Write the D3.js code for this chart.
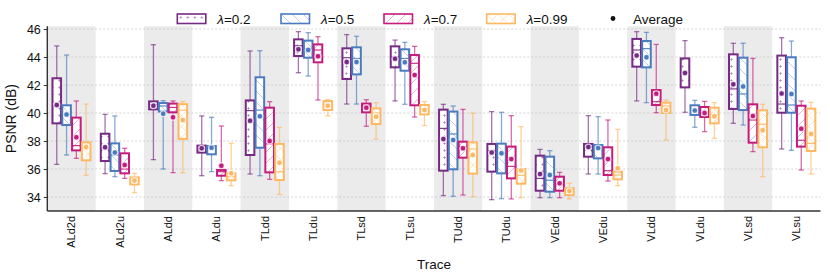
<!DOCTYPE html>
<html><head><meta charset="utf-8">
<script src="https://cdn.jsdelivr.net/npm/d3@7"></script>
<style>body{margin:0;background:#fff}svg{display:block;font-family:"Liberation Sans",Arial,sans-serif}</style>
</head><body><svg id="c" width="830" height="279"></svg>
<script>
const categories = ["ALd2d","ALd2u","ALdd","ALdu","TLdd","TLdu","TLsd","TLsu","TUdd","TUdu","VEdd","VEdu","VLdd","VLdu","VLsd","VLsu"];
const seriesLabels = ["0.2","0.5","0.7","0.99"];
const yTicks = [34,36,38,40,42,44,46];
// each row: [whiskerLow, q1, median, q3, whiskerHigh, mean]
const lam02 = [
 [36.33,39.26,40.5,42.48,44.79,40.57],[35.67,36.57,37.5,38.52,39.9,37.55],[36.67,40.26,40.6,40.83,44.88,40.52],[35.52,37.17,37.45,37.67,39.79,37.48],
 [35.64,37.0,40.17,40.9,44.43,39.45],[42.88,44.07,44.8,45.26,45.81,44.55],[40.64,42.43,43.95,44.62,45.6,43.64],[40.86,43.26,44.0,44.76,45.21,43.88],
 [34.1,35.88,38.9,40.24,40.62,38.14],[33.81,35.81,37.3,37.79,40.1,37.17],[33.95,34.45,35.33,36.95,37.4,35.64],[35.64,36.88,37.6,37.79,39.81,37.57],
 [40.86,43.31,44.5,45.29,45.81,44.1],[40.05,41.83,42.9,43.9,45.17,42.86],[39.26,40.29,41.72,44.19,44.98,42.05],[37.43,40.02,40.64,44.1,45.38,41.4]];
const lam05 = [
 [37.0,39.14,39.9,40.55,44.14,39.9],[35.45,35.86,37.0,37.83,39.79,37.17],[36.0,40.1,40.5,40.71,40.88,39.95],[35.81,37.05,37.5,37.64,39.69,37.52],
 [35.52,37.52,40.21,42.55,44.45,39.76],[42.64,43.95,44.6,45.17,45.74,44.5],[40.64,42.76,43.9,44.69,45.48,43.64],[40.62,43.02,43.9,44.55,45.05,43.62],
 [34.05,35.98,38.5,40.1,40.5,38.07],[33.88,35.69,37.1,37.81,40.05,37.12],[33.95,34.38,35.2,36.88,37.31,35.57],[35.64,36.76,37.5,37.71,39.74,37.5],
 [40.74,43.26,44.6,45.14,45.76,43.98],[38.98,39.86,40.2,40.55,40.9,40.17],[39.14,40.21,41.36,43.95,44.98,41.9],[37.33,40.02,40.57,43.98,45.14,41.36]];
const lam07 = [
 [36.76,37.33,37.67,39.67,40.86,38.26],[35.33,35.69,36.0,37.12,37.48,36.29],[35.74,40.05,40.4,40.67,40.86,39.69],[35.17,35.52,35.81,35.93,39.07,36.24],
 [35.26,35.76,37.8,40.38,40.81,38.0],[40.93,43.62,44.5,44.9,45.45,44.05],[39.05,40.05,40.5,40.67,40.95,40.38],[39.71,40.55,43.55,44.14,44.76,42.71],
 [34.14,36.81,37.6,37.95,40.26,37.48],[33.86,35.33,36.19,37.6,39.81,36.71],[33.95,34.45,34.9,35.45,35.76,34.98],[35.14,35.57,35.88,37.55,39.5,36.71],
 [40.02,40.57,40.81,41.64,44.9,41.38],[38.67,39.71,40.0,40.43,40.83,40.0],[37.24,37.88,39.5,40.62,43.9,39.79],[35.93,37.6,38.05,40.52,40.86,38.88]];
const lam099 = [
 [35.55,36.62,37.5,37.9,40.64,37.57],[34.31,34.9,35.17,35.4,35.69,35.17],[35.74,38.15,40.2,40.63,40.82,39.5],[34.81,35.19,35.45,35.69,37.83,35.69],
 [34.19,35.21,35.8,37.79,38.98,36.45],[39.8,40.21,40.55,40.85,40.96,40.52],[38.14,39.21,40.0,40.33,40.74,39.74],[39.1,39.9,40.3,40.57,40.81,40.21],
 [34.02,35.67,37.43,37.9,39.98,37.0],[33.95,34.95,35.55,36.0,39.02,35.9],[33.86,34.14,34.4,34.62,34.98,34.43],[34.81,35.26,35.57,35.81,38.83,36.05],
 [38.07,40.0,40.5,40.74,40.93,40.21],[38.19,39.26,39.9,40.38,40.74,39.76],[35.45,37.55,39.2,40.19,40.62,38.77],[35.64,37.29,37.83,40.31,40.76,38.5]];

const allSeries = [lam02, lam05, lam07, lam099];
const colors = ["#762a83","#4a7bbf","#c51b7d","#fdb863"];
const hatch = ["plus","back","fwd","cross"];

const svg = d3.select("#c");
const M = {l:47.3, r:820.5, t:26.2, b:211};
const x = d3.scaleBand().domain(categories).range([M.l, M.r]).padding(0);
const y = d3.scaleLinear().domain([33, 46.2]).range([M.b, M.t]);
const sub = d3.scaleBand().domain(d3.range(4)).range([-19.6, 19.6]);
const bw = 8.6;

// patterns
const defs = svg.append("defs");
colors.forEach((c,i)=>{
  const p = defs.append("pattern").attr("id","pat"+i).attr("patternUnits","userSpaceOnUse")
    .attr("width", i===0?7:11).attr("height", i===0?7:11);
  const st = {stroke:c, "stroke-opacity":0.4, "stroke-width":0.9, fill:"none"};
  const add = (d)=>{const e=p.append("path").attr("d",d); Object.entries(st).forEach(([k,v])=>e.attr(k,v));};
  if (hatch[i]==="plus") { add("M2,3.5H5M3.5,2V5"); }
  if (hatch[i]==="back") { add("M0,0L11,11M-5.5,5.5L5.5,16.5M5.5,-5.5L16.5,5.5"); }
  if (hatch[i]==="fwd") { add("M0,11L11,0M-5.5,5.5L5.5,-5.5M5.5,16.5L16.5,5.5"); }
  if (hatch[i]==="cross") { add("M0,0L11,11M0,11L11,0"); }
});

// bands
svg.append("g").selectAll("rect").data(categories.filter((d,i)=>i%2===0)).join("rect")
  .attr("x", d=>x(d)).attr("width", x.bandwidth()).attr("y", M.t).attr("height", M.b-M.t).attr("fill","#ebebeb");

// grid
svg.append("g").selectAll("line").data(yTicks).join("line")
  .attr("x1", M.l).attr("x2", M.r).attr("y1", d=>y(d)).attr("y2", d=>y(d))
  .attr("stroke","#c8c8c8").attr("stroke-width",0.8).attr("stroke-dasharray","2,2");

// boxes
allSeries.forEach((ser, si)=>{
  const c = colors[si];
  const g = svg.append("g");
  ser.forEach((row, ci)=>{
    const [lo,q1,md,q3,hi,mn] = row;
    const cx = x(categories[ci]) + x.bandwidth()/2 + sub(si) + sub.bandwidth()/2;
    const wg = g.append("g").attr("stroke", c).attr("stroke-opacity",0.65).attr("stroke-width",1.3);
    wg.append("line").attr("x1",cx).attr("x2",cx).attr("y1",y(lo)).attr("y2",y(q1));
    wg.append("line").attr("x1",cx).attr("x2",cx).attr("y1",y(q3)).attr("y2",y(hi));
    wg.append("line").attr("x1",cx-2.6).attr("x2",cx+2.6).attr("y1",y(lo)).attr("y2",y(lo));
    wg.append("line").attr("x1",cx-2.6).attr("x2",cx+2.6).attr("y1",y(hi)).attr("y2",y(hi));
    g.append("rect").attr("x",cx-bw/2).attr("width",bw).attr("y",y(q3)).attr("height",Math.max(0.5,y(q1)-y(q3)))
      .attr("fill","#fff");
    g.append("rect").attr("x",cx-bw/2).attr("width",bw).attr("y",y(q3)).attr("height",Math.max(0.5,y(q1)-y(q3)))
      .attr("fill","url(#pat"+si+")").attr("stroke",c).attr("stroke-width",2);
    g.append("line").attr("x1",cx-bw/2).attr("x2",cx+bw/2).attr("y1",y(md)).attr("y2",y(md))
      .attr("stroke",c).attr("stroke-width",1.2).attr("stroke-opacity",0.9);
    g.append("circle").attr("cx",cx).attr("cy",y(mn)).attr("r",2.9).attr("fill",c)
      .attr("stroke","#fff").attr("stroke-opacity",0.7).attr("stroke-width",1.3);
  });
});

// axes
const ya = svg.append("g").attr("transform",`translate(${M.l},0)`)
  .call(d3.axisLeft(y).tickValues(yTicks).tickSize(3.5).tickPadding(3));
ya.select(".domain").attr("d",`M0,${M.t}V${M.b}`).attr("stroke","#333").attr("stroke-width",1.4);
ya.selectAll(".tick line").attr("stroke","#333").attr("stroke-width",1);
ya.selectAll("text").attr("font-size",12.5).attr("fill","#111").style("font-family","Liberation Sans, Arial");

const xa = svg.append("g").attr("transform",`translate(0,${M.b})`)
  .call(d3.axisBottom(x).tickSize(0).tickPadding(5));
xa.select(".domain").attr("d",`M${M.l},0H${M.r}`).attr("stroke","#333").attr("stroke-width",1.4);
xa.selectAll("text").attr("font-size",11).attr("fill","#111").style("font-family","Liberation Sans, Arial")
  .attr("transform","rotate(-90)").attr("text-anchor","end").attr("dy","0.35em").attr("x",-5).attr("y",0);

svg.append("text").attr("transform",`translate(16,${(M.t+M.b)/2}) rotate(-90)`).attr("text-anchor","middle")
  .attr("font-size",14).attr("fill","#111").text("PSNR (dB)");
svg.append("text").attr("x",(M.l+M.r)/2).attr("y",269).attr("text-anchor","middle")
  .attr("font-size",13.5).attr("fill","#111").text("Trace");

// legend
const legX = [177.3, 281, 384, 486.7];
seriesLabels.forEach((lab,i)=>{
  const lg = svg.append("g").attr("transform",`translate(${legX[i]},14)`);
  lg.append("rect").attr("width",28.5).attr("height",9.5).attr("fill","#fff");
  lg.append("rect").attr("width",28.5).attr("height",9.5).attr("fill","url(#pat"+i+")").attr("stroke",colors[i]).attr("stroke-width",1.6);
  const t = lg.append("text").attr("x",40).attr("y",9.5).attr("font-size",13.5).attr("fill","#111");
  t.append("tspan").attr("font-style","italic").text("\u03bb");
  t.append("tspan").text("="+lab);
});
svg.append("circle").attr("cx",613).attr("cy",18.5).attr("r",2.4).attr("fill","#111");
svg.append("text").attr("x",633).attr("y",24).attr("font-size",13.5).attr("fill","#111").text("Average");
</script></body></html>
